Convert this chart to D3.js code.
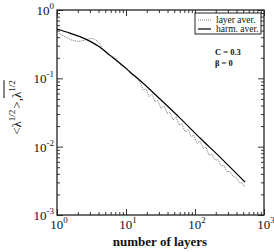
<!DOCTYPE html>
<html><head><meta charset="utf-8">
<script src="https://cdn.jsdelivr.net/npm/d3@7"></script>
<style>body{margin:0;background:#fff} svg{display:block} text{font-family:"Liberation Serif","Times New Roman",serif}</style>
</head><body>
<script>
// ---- data ----
const xTickValues = [1, 10, 100, 1000];
const xTickExp = ["0", "1", "2", "3"];
const yTickValues = [1, 0.1, 0.01, 0.001];
const yTickExp = ["0", "-1", "-2", "-3"];

const harmN = [1, 1.54, 2.15, 3.22, 4.20, 5.13, 6.48, 8.75, 11.4, 16.0, 31.1, 60.6, 118, 230, 531];
const harmV = [0.527, 0.458, 0.408, 0.336, 0.285, 0.243, 0.200, 0.157, 0.124, 0.0929, 0.0498, 0.0262, 0.0134, 0.00704, 0.00303];

const layerN = [1, 1.18, 1.40, 1.65, 1.95, 2.30, 2.72, 3.22, 3.67, 4.2, 4.8, 5.48, 6.27, 7.16, 8.19, 9.35, 10.7, 11.8, 13.0, 14.4,
  15.95, 17.63, 19.49, 21.54, 23.81, 26.32, 29.09, 32.15, 35.54, 39.28, 43.42, 47.99, 53.04, 58.63, 64.80, 71.63, 79.17, 87.5, 96.7,
  106.9, 118.2, 130.6, 144.3, 159.6, 176.4, 194.9, 215.4, 238.1, 263.2, 290.9, 321.5, 355.4, 392.8, 434.2, 479.9, 530.4];
const layerV = [0.476, 0.430, 0.390, 0.362, 0.348, 0.352, 0.372, 0.385, 0.365, 0.315, 0.251, 0.219, 0.212, 0.198, 0.158, 0.148, 0.136, 0.116, 0.108, 0.101,
  0.0883, 0.0676, 0.0702, 0.0538, 0.0596, 0.0457, 0.0474, 0.0363, 0.0402, 0.0308, 0.0320, 0.0245, 0.0272, 0.0209, 0.0216, 0.0165, 0.0177, 0.0141, 0.0146,
  0.01117, 0.0120, 0.00947, 0.00983, 0.00753, 0.00781, 0.00641, 0.00643, 0.00527, 0.00527, 0.00432, 0.00433, 0.00367, 0.00356, 0.00302, 0.00293, 0.00256];

const legendLabels = ["layer aver.", "harm. aver."];
const annotations = ["C = 0.3", "β = 0"];
const xTitle = "number of layers";

// ---- drawing ----
const W = 274, H = 252;
const L = 57, R = 264, T = 10, B = 215;

const svg = d3.select("body").append("svg").attr("width", W).attr("height", H);

const x = d3.scaleLog().domain([1, 1000]).range([L, R]);
const y = d3.scaleLog().domain([0.001, 1]).range([B, T]);

const minorX = x.ticks().filter(v => !xTickValues.includes(v));
const minorY = y.ticks().filter(v => !yTickValues.some(t => Math.abs(t - v) / v < 1e-9));

function axis(gen, tr, vals, len) {
  const g = svg.append("g").attr("transform", tr)
    .call(gen.tickValues(vals).tickSize(-len).tickFormat(""));
  g.select(".domain").remove();
  g.selectAll("line").attr("stroke", "#333").attr("stroke-width", 1);
}
axis(d3.axisBottom(x), `translate(0,${B})`, minorX, 3);
axis(d3.axisBottom(x), `translate(0,${B})`, xTickValues, 6);
axis(d3.axisTop(x), `translate(0,${T})`, minorX, 3);
axis(d3.axisTop(x), `translate(0,${T})`, xTickValues, 6);
axis(d3.axisLeft(y), `translate(${L},0)`, minorY, 3);
axis(d3.axisLeft(y), `translate(${L},0)`, yTickValues, 6);
axis(d3.axisRight(y), `translate(${R},0)`, minorY, 3);
axis(d3.axisRight(y), `translate(${R},0)`, yTickValues, 6);

svg.append("rect").attr("x", L).attr("y", T).attr("width", R - L).attr("height", B - T)
  .attr("fill", "none").attr("stroke", "#222").attr("stroke-width", 1.3);

const line = d3.line().x(d => x(d[0])).y(d => y(d[1])).curve(d3.curveMonotoneX);
svg.append("path").datum(layerN.map((n, i) => [n, layerV[i]]))
  .attr("d", d3.line().x(d => x(d[0])).y(d => y(d[1])))
  .attr("fill", "none").attr("stroke", "#777").attr("stroke-width", 1)
  .attr("stroke-dasharray", "1,1");
svg.append("path").datum(harmN.map((n, i) => [n, harmV[i]]))
  .attr("d", line).attr("fill", "none").attr("stroke", "#000").attr("stroke-width", 1.2);

function powLabel(xp, yp, exp, anchor) {
  const t = svg.append("text").attr("x", xp).attr("y", yp).attr("text-anchor", anchor)
    .attr("font-size", 13).attr("fill", "#111");
  t.append("tspan").text("10");
  t.append("tspan").attr("dy", -6).attr("font-size", 9).text(exp);
}
xTickValues.forEach((v, i) => powLabel(x(v) + 2, 229, xTickExp[i], "middle"));
yTickValues.forEach((v, i) => powLabel(54, y(v) + 5, yTickExp[i], "end"));

svg.append("text").attr("x", 160).attr("y", 246).attr("text-anchor", "middle")
  .attr("font-size", 13).attr("font-weight", "bold").attr("fill", "#111").text(xTitle);

const yt = svg.append("g").attr("transform", "translate(21,107) rotate(-90)");
const pieces = [
  { t: "<λ", sup: false }, { t: "1/2", sup: true }, { t: ">, ", sup: false },
  { t: "λ", sup: false, over: true }, { t: "1/2", sup: true, over: true }
];
let cx = 0, overStart = null, overEnd = 0;
const els = [];
pieces.forEach(p => {
  const e = yt.append("text").attr("x", cx).attr("y", p.sup ? -6 : 0)
    .attr("font-size", p.sup ? 9 : 13).attr("fill", "#111").text(p.t);
  const w = e.node().getComputedTextLength();
  if (p.over) { if (overStart === null) overStart = cx; overEnd = cx + w; }
  els.push(e);
  cx += w + (p.sup ? 1 : 0);
});
els.forEach(e => e.attr("x", +e.attr("x") - cx / 2));
yt.append("line").attr("x1", overStart - cx / 2).attr("x2", overEnd - cx / 2)
  .attr("y1", -17).attr("y2", -17).attr("stroke", "#111").attr("stroke-width", 1);

const lg = svg.append("g");
lg.append("rect").attr("x", 195).attr("y", 13).attr("width", 66).attr("height", 21)
  .attr("fill", "#fff").attr("stroke", "#222").attr("stroke-width", 1);
legendLabels.forEach((lab, i) => {
  const yy = 20 + i * 9;
  lg.append("line").attr("x1", 198).attr("x2", 211).attr("y1", yy).attr("y2", yy)
    .attr("stroke", i === 0 ? "#777" : "#000").attr("stroke-width", i === 0 ? 1 : 1.2)
    .attr("stroke-dasharray", i === 0 ? "1,1" : null);
  lg.append("text").attr("x", 216).attr("y", yy + 3).attr("font-size", 9.5)
    .attr("fill", "#111").text(lab);
});
annotations.forEach((a, i) => {
  svg.append("text").attr("x", 215).attr("y", 55 + i * 11).attr("font-size", 8.5)
    .attr("font-weight", "bold").attr("fill", "#111").text(a);
});
</script>
</body></html>
